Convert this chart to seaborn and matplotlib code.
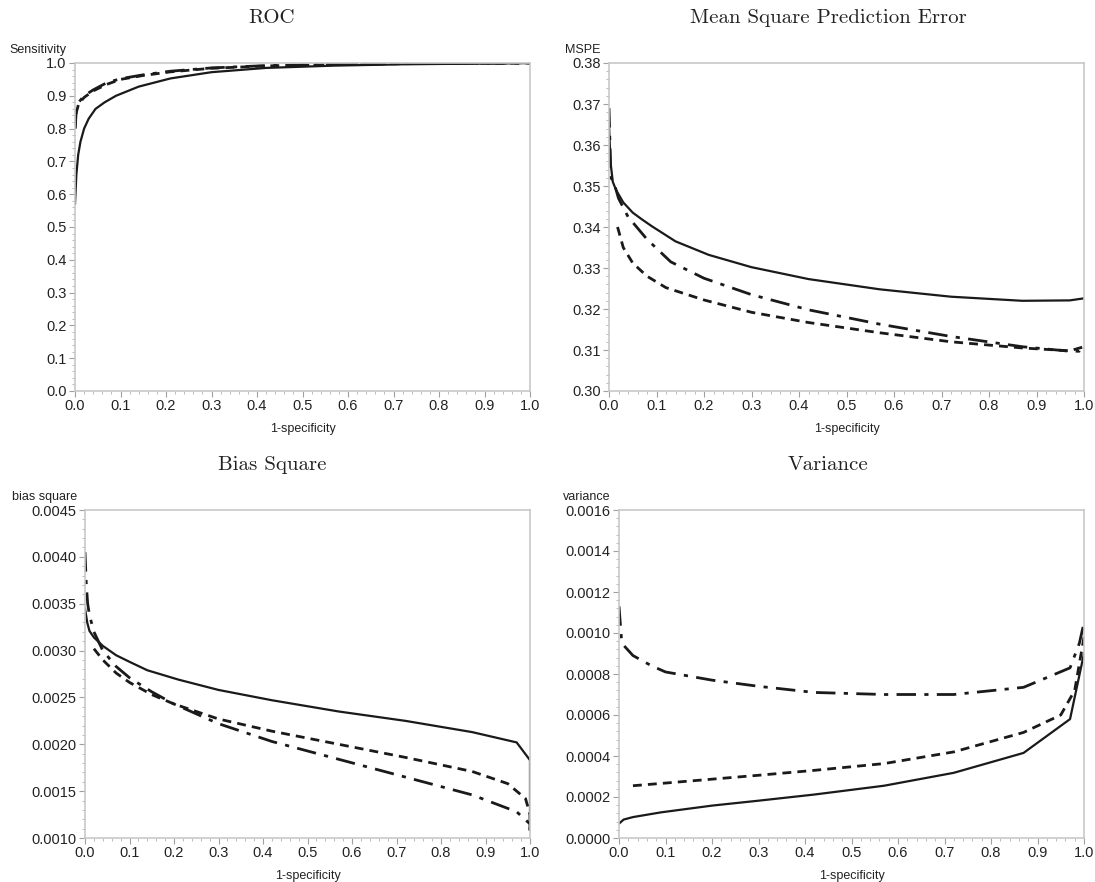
import numpy as np
import pandas as pd
import matplotlib
matplotlib.use("Agg")
import matplotlib.pyplot as plt
from matplotlib.ticker import MultipleLocator, FormatStrFormatter
import seaborn as sns

# ---------------- data ----------------
# ROC
roc_solid_x = [0.0, 0.003, 0.007, 0.012, 0.02, 0.03, 0.045, 0.065, 0.09, 0.14, 0.21, 0.30, 0.42, 0.57, 0.72, 0.87, 0.97, 1.0]
roc_solid_y = [0.57, 0.66, 0.72, 0.76, 0.80, 0.83, 0.86, 0.88, 0.90, 0.928, 0.953, 0.972, 0.985, 0.992, 0.996, 0.998, 0.999, 1.0]
roc_dash_x = [0.0, 0.003, 0.008, 0.02, 0.04, 0.07, 0.1, 0.15, 0.21, 0.30, 0.42, 0.57, 0.72, 0.87, 1.0]
roc_dash_y = [0.80, 0.85, 0.875, 0.895, 0.915, 0.935, 0.95, 0.962, 0.973, 0.984, 0.991, 0.996, 0.998, 0.999, 1.0]
roc_dd_x = [0.0, 0.003, 0.008, 0.02, 0.04, 0.07, 0.1, 0.15, 0.21, 0.30, 0.42, 0.57, 0.72, 0.87, 1.0]
roc_dd_y = [0.80, 0.855, 0.88, 0.90, 0.918, 0.94, 0.952, 0.964, 0.975, 0.985, 0.992, 0.996, 0.998, 0.999, 1.0]

# MSPE
mspe_solid_x = [0.0, 0.003, 0.008, 0.015, 0.03, 0.05, 0.07, 0.09, 0.14, 0.21, 0.30, 0.42, 0.57, 0.72, 0.87, 0.97, 1.0]
mspe_solid_y = [0.365, 0.356, 0.351, 0.349, 0.346, 0.3435, 0.3418, 0.3402, 0.3365, 0.3332, 0.3302, 0.3273, 0.3248, 0.3230, 0.3220, 0.3221, 0.3226]
mspe_dd_x = [0.0, 0.004, 0.01, 0.02, 0.04, 0.08, 0.13, 0.20, 0.30, 0.42, 0.57, 0.72, 0.87, 0.97, 0.99, 1.0]
mspe_dd_y = [0.369, 0.352, 0.351, 0.347, 0.3425, 0.337, 0.3315, 0.3275, 0.3235, 0.3198, 0.3163, 0.3133, 0.3108, 0.3097, 0.3097, 0.3113]
mspe_dash_x = [0.018, 0.03, 0.05, 0.08, 0.12, 0.2, 0.30, 0.42, 0.57, 0.72, 0.87, 0.97, 1.0]
mspe_dash_y = [0.3400, 0.3350, 0.3312, 0.3280, 0.3252, 0.3222, 0.3192, 0.3167, 0.3142, 0.3120, 0.3105, 0.3098, 0.3108]

# Bias square
bias_solid_x = [0.0, 0.005, 0.01, 0.02, 0.04, 0.07, 0.1, 0.14, 0.21, 0.30, 0.42, 0.57, 0.72, 0.87, 0.97, 1.0, 1.0]
bias_solid_y = [0.00345, 0.00330, 0.00321, 0.00314, 0.00305, 0.00295, 0.00288, 0.00279, 0.00269, 0.00258, 0.00247, 0.00235, 0.00225, 0.00213, 0.00202, 0.00183, 0.00110]
bias_dd_x = [0.0, 0.003, 0.006, 0.01, 0.02, 0.04, 0.07, 0.10, 0.15, 0.20, 0.30, 0.42, 0.57, 0.72, 0.87, 0.97, 1.0, 1.0]
bias_dd_y = [0.00405, 0.00370, 0.00350, 0.00338, 0.00320, 0.00300, 0.00283, 0.00271, 0.00256, 0.00243, 0.00222, 0.00203, 0.00184, 0.00165, 0.00146, 0.00128, 0.00115, 0.00108]
bias_dash_x = [0.02, 0.04, 0.07, 0.10, 0.15, 0.20, 0.30, 0.42, 0.57, 0.72, 0.87, 0.95, 0.99, 1.0, 1.0]
bias_dash_y = [0.00302, 0.00290, 0.00276, 0.00266, 0.00253, 0.00243, 0.00227, 0.00214, 0.00200, 0.00186, 0.00171, 0.00158, 0.00142, 0.00125, 0.00108]

# Variance
var_solid_x = [0.0, 0.01, 0.03, 0.09, 0.20, 0.30, 0.42, 0.57, 0.72, 0.87, 0.97, 1.0]
var_solid_y = [0.00007, 0.00009, 0.000102, 0.000125, 0.000158, 0.000182, 0.000212, 0.000255, 0.000318, 0.000415, 0.00058, 0.00090]
var_dash_x = [0.03, 0.10, 0.20, 0.30, 0.42, 0.57, 0.72, 0.87, 0.95, 0.98, 1.0]
var_dash_y = [0.000255, 0.000268, 0.000287, 0.000306, 0.000330, 0.000363, 0.000420, 0.000515, 0.000600, 0.000720, 0.00098]
var_dd_x = [0.0, 0.005, 0.01, 0.03, 0.07, 0.10, 0.20, 0.30, 0.42, 0.57, 0.72, 0.87, 0.97, 0.99, 1.0]
var_dd_y = [0.00113, 0.00098, 0.00094, 0.00089, 0.00084, 0.00081, 0.00077, 0.00074, 0.00071, 0.00070, 0.00070, 0.000735, 0.00083, 0.00095, 0.00105]

titles = ["ROC", "Mean Square Prediction Error", "Bias Square", "Variance"]
ylabels = ["Sensitivity", "MSPE", "bias square", "variance"]
xlabel = "1-specificity"

# ---------------- style ----------------
sns.set_style("white")
plt.rcParams["font.family"] = ["Liberation Sans", "DejaVu Sans"]

W, H = 1095, 882
fig = plt.figure(figsize=(W / 100, H / 100), dpi=100)


def box(left, right, top, bottom):
    return [left / W, 1 - bottom / H, (right - left) / W, (bottom - top) / H]


positions = [
    box(75, 530, 63, 391),
    box(609, 1084, 63, 391),
    box(85, 530, 510, 838),
    box(619, 1084, 510, 838),
]
title_xy = [(272, 18), (828, 18), (272, 465), (828, 465)]
axes = [fig.add_axes(p) for p in positions]

SOLID = dict(color="#1a1a1a", linestyle="-", linewidth=1.6)
DASH = dict(color="#1a1a1a", linestyle=(0, (3.2, 2.2)), linewidth=2.0)
DDOT = dict(color="#1a1a1a", linestyle=(0, (7, 3, 1.5, 3)), linewidth=2.0)

series = [
    [(roc_solid_x, roc_solid_y, SOLID), (roc_dash_x, roc_dash_y, DASH), (roc_dd_x, roc_dd_y, DDOT)],
    [(mspe_solid_x, mspe_solid_y, SOLID), (mspe_dash_x, mspe_dash_y, DASH), (mspe_dd_x, mspe_dd_y, DDOT)],
    [(bias_solid_x, bias_solid_y, SOLID), (bias_dash_x, bias_dash_y, DASH), (bias_dd_x, bias_dd_y, DDOT)],
    [(var_solid_x, var_solid_y, SOLID), (var_dash_x, var_dash_y, DASH), (var_dd_x, var_dd_y, DDOT)],
]

ylims = [(0.0, 1.0), (0.30, 0.38), (0.0010, 0.0045), (0.0, 0.0016)]
ymajor = [0.1, 0.01, 0.0005, 0.0002]
yminor = [0.02, 0.002, 0.0001, 0.00004]
yfmt = ["%.1f", "%.2f", "%.4f", "%.4f"]

for i, ax in enumerate(axes):
    for xs, ys, st in series[i]:
        df = pd.DataFrame({"x": xs, "y": ys})
        sns.lineplot(data=df, x="x", y="y", ax=ax, estimator=None, sort=False,
                     legend=False, **st)
    ax.set_xlim(0, 1)
    ax.set_ylim(*ylims[i])
    ax.xaxis.set_major_locator(MultipleLocator(0.1))
    ax.xaxis.set_minor_locator(MultipleLocator(0.02))
    ax.yaxis.set_major_locator(MultipleLocator(ymajor[i]))
    ax.yaxis.set_minor_locator(MultipleLocator(yminor[i]))
    ax.xaxis.set_major_formatter(FormatStrFormatter("%.1f"))
    ax.yaxis.set_major_formatter(FormatStrFormatter(yfmt[i]))
    for s in ax.spines.values():
        s.set_color("#c8c8c8")
        s.set_linewidth(1.2)
    ax.tick_params(axis="both", which="major", direction="out", length=4, width=0.8,
                   color="#a0a0a0", labelsize=10.5, labelcolor="#222222", pad=2)
    ax.tick_params(axis="both", which="minor", direction="out", length=2, width=0.6,
                   color="#b0b0b0")
    ax.tick_params(axis="x", which="both", bottom=True)
    ax.tick_params(axis="y", which="both", left=True)
    ax.set_xlabel(xlabel, fontsize=9, color="#222222", labelpad=7)
    ax.set_ylabel("")
    ax.annotate(ylabels[i], xy=(0, 1), xycoords="axes fraction",
                xytext=(-6, 5), textcoords="offset points",
                ha="right", va="bottom", fontsize=9, color="#222222")
    tx, ty = title_xy[i]
    fig.text(tx / W, 1 - ty / H, titles[i], fontsize=15, family="cmr10",
             ha="center", va="center", color="#222222")

fig.savefig("out.png", dpi=100, facecolor="white")
